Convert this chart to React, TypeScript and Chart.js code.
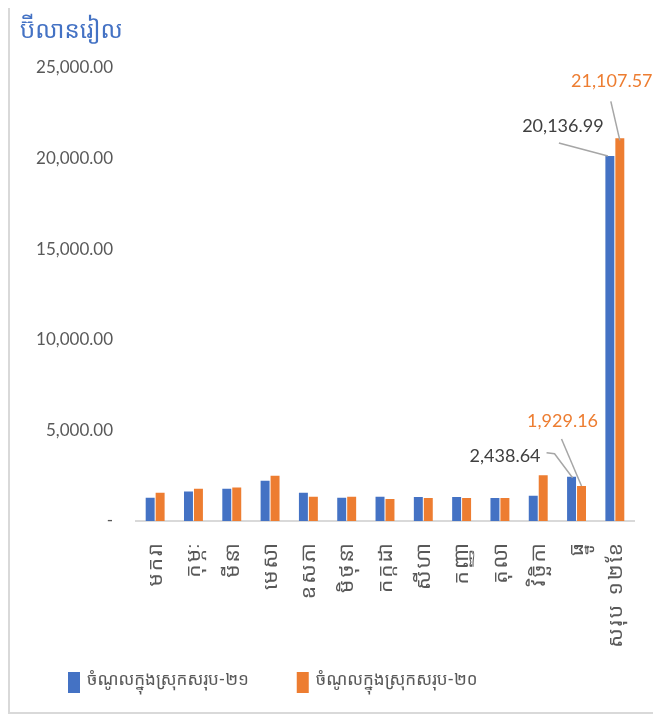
import React, { useEffect, useRef } from "react";
import { Chart, registerables } from "chart.js";

Chart.register(...registerables);

const categories = ["មករា", "កុម្ភៈ", "មីនា", "មេសា", "ឧសភា", "មិថុនា", "កក្កដា", "សីហា", "កញ្ញា", "តុលា", "វិច្ឆិកា", "ធ្នូ", "សរុប ១២ខែ"];
const revenue21 = [1286, 1630, 1780, 2220, 1560, 1286, 1340, 1320, 1320, 1265, 1390, 2438.64, 20136.99];
const revenue20 = [1560, 1780, 1850, 2495, 1340, 1340, 1210, 1265, 1265, 1265, 2530, 1929.16, 21107.57];
const seriesNames = ["ចំណូលក្នុងស្រុកសរុប-២១", "ចំណូលក្នុងស្រុកសរុប-២០"];
const seriesColors = ["#4472C4", "#ED7D31"];
const yTicks = [0, 5000, 10000, 15000, 20000, 25000];
const unitTitle = "ប៊ីលានរៀល";
const labelledIndices = [11, 12];

const FONT = "Lato, 'Noto Sans Khmer', 'Khmer OS System', 'Khmer OS', sans-serif";

const fmt = (v: number) =>
  v.toLocaleString("en-US", { minimumFractionDigits: 2, maximumFractionDigits: 2 });

// callout styling: text offset and leader-line points relative to bar top-centre
const calloutStyle: Record<string, { tx: number; ty: number; align: CanvasTextAlign; color: string; pts: number[][] }> = {
  "0-11": { tx: -31, ty: -21, align: "right", color: "#404040", pts: [[-25, -24], [-17, -23], [1, 1]] },
  "1-11": { tx: -19, ty: -65, align: "center", color: "#ED7D31", pts: [[-20, -47], [0, 0]] },
  "0-12": { tx: -47, ty: -30, align: "center", color: "#404040", pts: [[-51, -13], [-2, 0]] },
  "1-12": { tx: -8, ty: -57, align: "center", color: "#ED7D31", pts: [[-9, -37], [0, 2]] },
};

const calloutPlugin = {
  id: "callouts",
  afterDatasetsDraw(chart: any) {
    const ctx = chart.ctx;
    chart.data.datasets.forEach((ds: any, di: number) => {
      const meta = chart.getDatasetMeta(di);
      labelledIndices.forEach((i) => {
        const el = meta.data[i];
        const st = calloutStyle[`${di}-${i}`];
        if (!el || !st) return;
        const x = el.x;
        const y = el.y;
        ctx.save();
        ctx.strokeStyle = "#A6A6A6";
        ctx.lineWidth = 1.5;
        ctx.beginPath();
        st.pts.forEach(([dx, dy], k) => (k ? ctx.lineTo(x + dx, y + dy) : ctx.moveTo(x + dx, y + dy)));
        ctx.stroke();
        ctx.font = `18px ${FONT}`;
        ctx.fillStyle = st.color;
        ctx.textAlign = st.align;
        ctx.textBaseline = "middle";
        ctx.fillText(fmt(ds.data[i]), x + st.tx, y + st.ty);
        ctx.restore();
      });
    });
  },
};

const legendPlugin = {
  id: "bottomLegend",
  afterDraw(chart: any) {
    const ctx = chart.ctx;
    const cy = chart.height - 30;
    let x = 58;
    ctx.save();
    ctx.font = `17px ${FONT}`;
    ctx.textBaseline = "middle";
    ctx.textAlign = "left";
    chart.data.datasets.forEach((ds: any) => {
      ctx.fillStyle = ds.backgroundColor;
      ctx.fillRect(x, cy - 10, 12, 21);
      ctx.fillStyle = "#595959";
      ctx.fillText(ds.label, x + 19, cy - 2);
      x += 19 + ctx.measureText(ds.label).width + 48;
    });
    ctx.restore();
  },
};

export default function App() {
  const ref = useRef<HTMLCanvasElement>(null);
  useEffect(() => {
    if (!ref.current) return;
    const chart = new Chart(ref.current, {
      type: "bar",
      data: {
        labels: categories,
        datasets: [
          { label: seriesNames[0], data: revenue21, backgroundColor: seriesColors[0] },
          { label: seriesNames[1], data: revenue20, backgroundColor: seriesColors[1] },
        ],
      },
      options: {
        responsive: false,
        animation: false,
        layout: { padding: { left: 10, right: 22, top: 0, bottom: 41 } },
        datasets: { bar: { categoryPercentage: 0.52, barPercentage: 0.9 } },
        plugins: {
          legend: { display: false },
          tooltip: { enabled: false },
          title: {
            display: true,
            text: unitTitle,
            align: "start",
            color: "#4472C4",
            font: { family: FONT, size: 24, weight: "normal" },
            padding: { top: 14, bottom: 23 },
          },
        },
        scales: {
          x: {
            grid: { display: false, drawTicks: false },
            border: { display: true, color: "#D9D9D9", width: 2 },
            ticks: {
              minRotation: 90,
              maxRotation: 90,
              autoSkip: false,
              padding: 20,
              color: "#595959",
              font: { family: FONT, size: 21 },
            },
            afterFit: (s: any) => {
              s.height = 150;
              s.paddingLeft = 0;
              s.paddingRight = 0;
              if (!s._spaced) {
                const orig = s.drawLabels.bind(s);
                s.drawLabels = (area: any) => {
                  s.ctx.save();
                  s.ctx.letterSpacing = "2px";
                  orig(area);
                  s.ctx.restore();
                };
                s._spaced = true;
              }
            },
          },
          y: {
            min: 0,
            max: 25000,
            grid: { display: false, drawTicks: false },
            border: { display: false },
            afterBuildTicks: (s: any) => {
              s.ticks = yTicks.map((v) => ({ value: v }));
            },
            ticks: {
              padding: 23,
              color: "#595959",
              font: { family: FONT, size: 17 },
              callback: (v: any) => (Number(v) === 0 ? "-" : fmt(Number(v))),
            },
            afterFit: (s: any) => {
              s.width = 116;
            },
          },
        },
      },
      plugins: [calloutPlugin, legendPlugin],
    });
    return () => chart.destroy();
  }, []);

  return (
    <div style={{ width: 646, height: 710, border: "2px solid #D9D9D9", marginTop: -8, background: "#fff" }}>
      <canvas ref={ref} width={646} height={710} style={{ display: "block" }} />
    </div>
  );
}
